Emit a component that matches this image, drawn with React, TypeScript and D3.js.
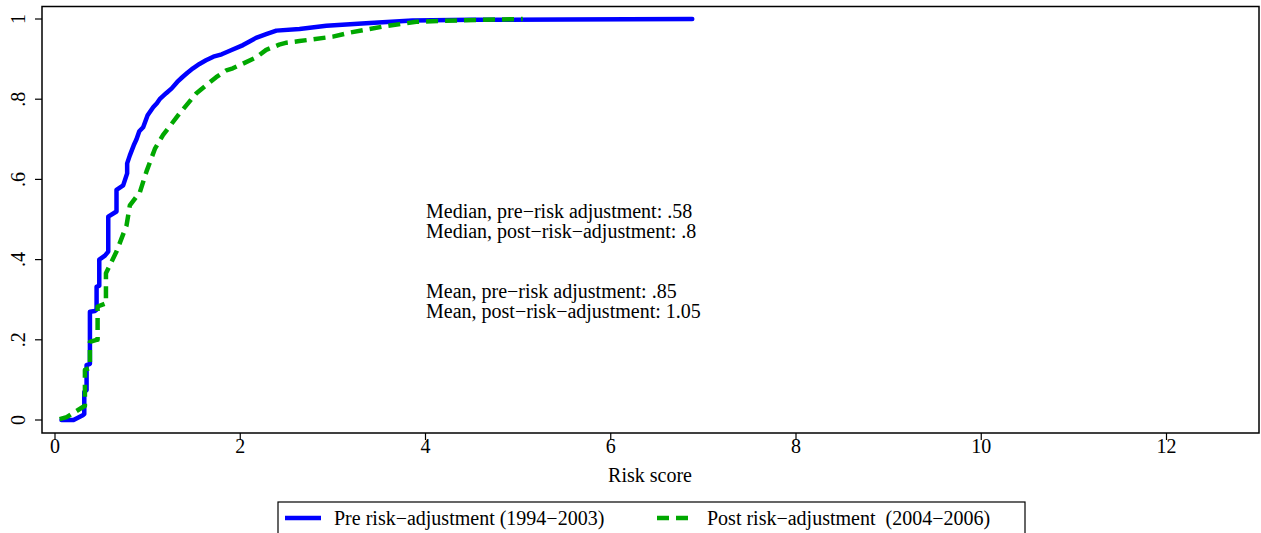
import React from "react";
import * as d3 from "d3";

const preX = [0.07, 0.2, 0.3, 0.316, 0.316, 0.341, 0.341, 0.377, 0.377, 0.431, 0.449, 0.449, 0.478, 0.478, 0.539, 0.575, 0.575, 0.664, 0.664, 0.736, 0.779, 0.779, 0.808, 0.85, 0.88, 0.91, 0.952, 1.0, 1.06, 1.1, 1.13, 1.2, 1.26, 1.32, 1.38, 1.43, 1.49, 1.56, 1.63, 1.71, 1.80, 1.9, 2.03, 2.1, 2.17, 2.28, 2.39, 2.64, 2.93, 3.4, 3.86, 4.5, 5.5, 6.88];
const preY = [0.0, 0.0, 0.012, 0.015, 0.07, 0.075, 0.137, 0.14, 0.27, 0.272, 0.275, 0.332, 0.335, 0.40, 0.41, 0.42, 0.507, 0.52, 0.574, 0.585, 0.615, 0.64, 0.66, 0.685, 0.70, 0.72, 0.73, 0.76, 0.78, 0.79, 0.80, 0.815, 0.827, 0.843, 0.856, 0.866, 0.877, 0.888, 0.897, 0.906, 0.912, 0.922, 0.935, 0.944, 0.953, 0.962, 0.971, 0.975, 0.983, 0.99, 0.996, 0.998, 0.999, 1.0];

const postX = [0.05, 0.126, 0.305, 0.323, 0.323, 0.377, 0.377, 0.449, 0.46, 0.46, 0.539, 0.55, 0.55, 0.664, 0.772, 0.808, 0.916, 0.988, 1.078, 1.167, 1.347, 1.527, 1.74, 1.85, 1.92, 2.17, 2.28, 2.42, 2.5, 2.64, 3.0, 3.18, 3.54, 3.9, 4.4, 5.05];
const postY = [0.002, 0.007, 0.033, 0.035, 0.125, 0.13, 0.195, 0.2, 0.2, 0.283, 0.29, 0.29, 0.366, 0.42, 0.485, 0.535, 0.568, 0.62, 0.676, 0.711, 0.765, 0.815, 0.855, 0.872, 0.877, 0.904, 0.923, 0.936, 0.941, 0.945, 0.956, 0.966, 0.981, 0.993, 0.997, 1.0];

const xTicks = [0, 2, 4, 6, 8, 10, 12];
const yTicks = [0, 0.2, 0.4, 0.6, 0.8, 1];
const yTickLabels = ["0", ".2", ".4", ".6", ".8", "1"];
const notes = [
  "Median, pre\u2212risk adjustment: .58",
  "Median, post\u2212risk\u2212adjustment: .8",
  "Mean, pre\u2212risk adjustment: .85",
  "Mean, post\u2212risk\u2212adjustment: 1.05",
];
const legendLabels = [
  "Pre risk\u2212adjustment (1994\u22122003)",
  "Post risk\u2212adjustment\u00a0 (2004\u22122006)",
];

const W = 1261;
const H = 533;
const frame = { left: 42, top: 6.5, right: 1259, bottom: 433 };
const font = "'Liberation Serif', 'Times New Roman', serif";
const BLUE = "#0000ff";
const GREEN = "#00a800";
const FS = 20;

export default function App() {
  const x = d3.scaleLinear().domain([0, 12]).range([55, 1166.5]);
  const y = d3.scaleLinear().domain([0, 1]).range([420, 19]);
  const line = d3
    .line<[number, number]>()
    .x((d) => x(d[0]))
    .y((d) => y(d[1]));
  const pre: [number, number][] = preX.map((v, i) => [v, preY[i]]);
  const post: [number, number][] = postX.map((v, i) => [v, postY[i]]);
  const noteBaselines = [218, 238, 298, 318];

  return (
    <svg
      width={W}
      height={H}
      style={{ position: "absolute", left: 0, top: 0, background: "#fff" }}
      fontFamily={font}
    >
      <rect x={0} y={0} width={W} height={H} fill="#fff" />
      <rect
        x={frame.left}
        y={frame.top}
        width={frame.right - frame.left}
        height={frame.bottom - frame.top}
        fill="none"
        stroke="#000"
        strokeWidth={1.5}
      />
      {xTicks.map((t) => (
        <g key={"x" + t}>
          <line x1={x(t)} x2={x(t)} y1={frame.bottom} y2={frame.bottom + 7} stroke="#000" strokeWidth={1.2} />
          <text x={x(t)} y={453} textAnchor="middle" fontSize={FS}>
            {t}
          </text>
        </g>
      ))}
      {yTicks.map((t, i) => (
        <g key={"y" + t}>
          <line x1={frame.left - 7} x2={frame.left} y1={y(t)} y2={y(t)} stroke="#000" strokeWidth={1.2} />
          <text
            transform={`translate(25,${y(t)}) rotate(-90)`}
            textAnchor="middle"
            fontSize={FS}
          >
            {yTickLabels[i]}
          </text>
        </g>
      ))}
      <text x={650} y={482} textAnchor="middle" fontSize={FS}>
        Risk score
      </text>
      <path d={line(pre) || ""} fill="none" stroke={BLUE} strokeWidth={4.5} strokeLinejoin="round" strokeLinecap="round" />
      <path d={line(post) || ""} fill="none" stroke={GREEN} strokeWidth={4.5} strokeDasharray="12 7" strokeLinejoin="round" />
      {notes.map((n, i) => (
        <text key={n} x={426} y={noteBaselines[i]} fontSize={FS}>
          {n}
        </text>
      ))}
      <rect x={278} y={502} width={747} height={40} fill="#fff" stroke="#000" strokeWidth={1.2} />
      <line x1={285} x2={321} y1={518} y2={518} stroke={BLUE} strokeWidth={4.5} />
      <text x={334} y={525} fontSize={FS}>
        {legendLabels[0]}
      </text>
      <line x1={657} x2={695} y1={518} y2={518} stroke={GREEN} strokeWidth={4.5} strokeDasharray="12 7" />
      <text x={707} y={525} fontSize={FS}>
        {legendLabels[1]}
      </text>
    </svg>
  );
}
